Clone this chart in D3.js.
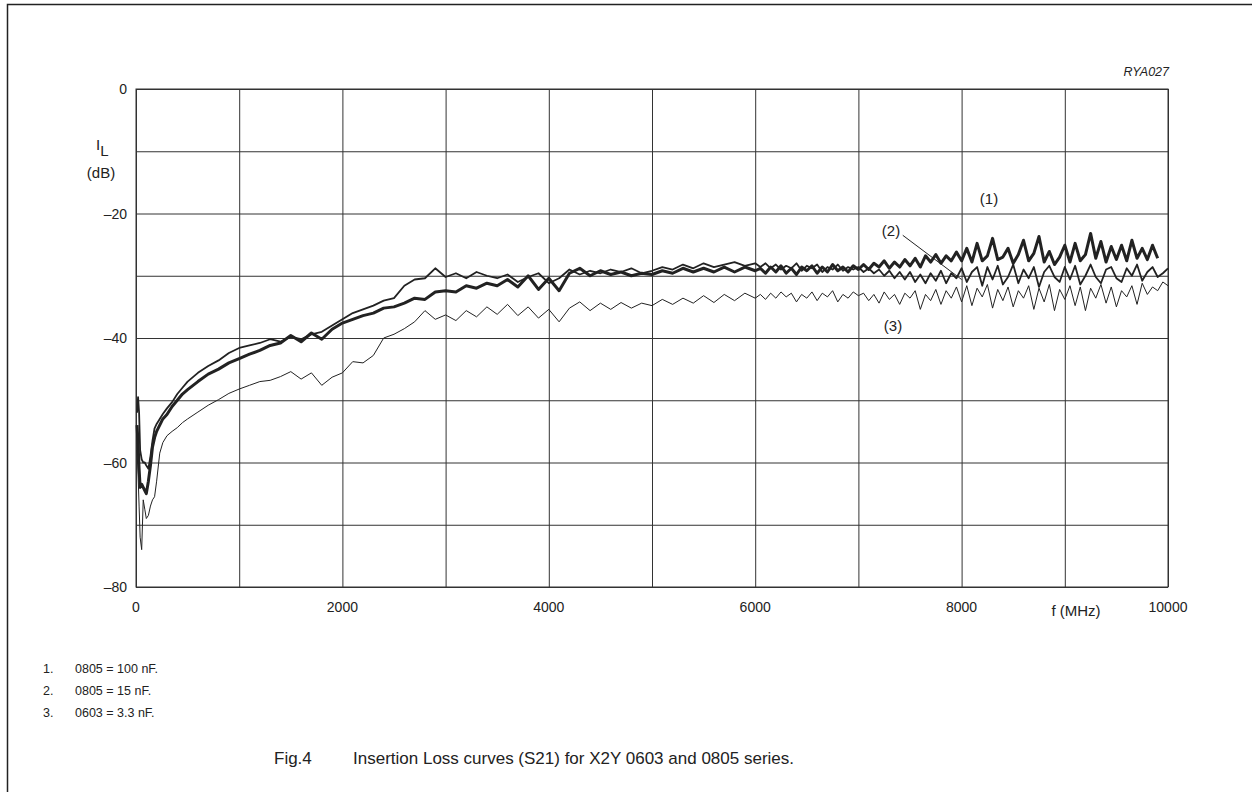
<!DOCTYPE html>
<html lang="en">
<head>
    <meta charset="UTF-8">
    <title>Insertion Loss curves</title>
    <script src="https://d3js.org/d3.v7.min.js"></script>
    <style>
        body, html { margin: 0; padding: 0; background: #fff; }
        svg text { font-family: "Liberation Sans", Arial, sans-serif; fill: #222; }
        .grid line, .grid path { stroke: #333; stroke-width: 1; }
        .curve { fill: none; stroke: #222; stroke-linejoin: round; }
    </style>
</head>
<body>
<div id="chart"></div>
<script>
    // frequencies (MHz): dense near the notch, then 100 MHz, then 50 MHz steps
    var freqLow = [10, 20, 30, 40, 55, 70, 85, 100, 120, 140, 160, 180, 200, 230, 260, 300, 350, 400, 450, 500, 600, 700, 800, 900, 1000];
    var freqMid = d3.range(1100, 6001, 100);
    var freqHigh = d3.range(6050, 10001, 50);
    var freqs = freqLow.concat(freqMid, freqHigh);

    // (1) 0805 = 100 nF  (thick)
    var s1Low = [-54, -57, -61, -64, -63.5, -64, -64.5, -65, -63, -60.5, -57.5, -56, -55, -54, -53, -52.3, -51, -50, -49, -48.3, -47, -45.8, -45, -44, -43.3];
    var s1Mid = [-42.6, -42.0, -41.2, -40.8, -39.6, -40.6, -39.2, -40.2, -38.6, -37.6,
        -37.0, -36.4, -36.0, -35.2, -35.0, -34.4, -33.6, -33.8, -32.6, -32.4,
        -32.6, -31.6, -32.0, -31.2, -31.6, -30.6, -31.8, -30.0, -32.2, -30.4,
        -32.4, -29.6, -28.8, -30.0, -29.2, -29.8, -29.4, -30.0, -29.6, -29.8,
        -29.2, -29.6, -28.8, -29.4, -28.8, -29.4, -28.6, -29.4, -28.6, -29.2];
    var s1High = [-28.8, -29.6, -28.6, -29.4, -28.4, -29.6, -28.8, -29.8, -28.6, -29.2,
        -28.4, -29.6, -28.6, -29.4, -28.2, -29.2, -28.6, -29.4, -28.4, -29.0,
        -28.2, -29.0, -28.0, -28.6, -27.6, -28.8, -27.8, -28.6, -27.4, -28.4,
        -27.2, -28.6, -26.8, -27.8, -26.6, -28.0, -26.8, -27.6, -26.2, -27.6,
        -25.6, -27.8, -24.8, -27.6, -26.8, -24.0, -27.4, -27.0, -25.6, -28.0,
        -26.6, -24.3, -27.6, -26.4, -23.7, -27.8, -26.1, -28.2, -27.0, -25.1,
        -27.8, -24.8, -27.6, -26.6, -23.2, -27.2, -24.5, -27.8, -25.3, -27.4,
        -25.1, -27.6, -24.3, -27.2, -25.6, -27.4, -25.1, -27.2, null, null];

    // (2) 0805 = 15 nF  (medium)
    var s2Low = [-52, -49.5, -52, -58, -59.5, -60, -60, -60.5, -61, -59, -56.5, -54.5, -53.8, -53, -52.2, -51.3, -50.3, -49, -48, -47, -45.6, -44.5, -43.6, -42.4, -41.6];
    var s2Mid = [-41.2, -40.8, -40.2, -40.6, -39.8, -40.2, -39.4, -39.0, -38.0, -37.0,
        -36.0, -35.4, -34.8, -34.0, -33.6, -31.6, -30.6, -30.4, -28.8, -30.2,
        -29.6, -30.4, -29.4, -30.0, -30.4, -29.8, -31.0, -30.2, -29.6, -31.2,
        -30.4, -29.0, -29.8, -29.2, -29.6, -29.0, -29.4, -28.8, -29.6, -29.2,
        -28.6, -29.0, -28.2, -28.8, -28.0, -28.6, -28.2, -27.8, -28.4, -28.0];
    var s2High = [-28.6, -28.0, -28.8, -28.2, -29.0, -28.4, -28.8, -28.0, -29.2, -28.4,
        -28.8, -28.2, -29.4, -28.6, -29.0, -28.2, -29.2, -28.6, -29.0, -28.6,
        -29.4, -28.8, -29.6, -29.0, -30.0, -29.2, -30.4, -29.4, -30.6, -29.4,
        -31.0, -29.8, -31.2, -29.6, -30.8, -29.2, -31.2, -29.6, -30.4, -28.8,
        -31.0, -29.4, -28.6, -31.6, -28.6, -30.6, -28.4, -31.4, -30.2, -28.2,
        -31.2, -29.0, -30.4, -28.6, -31.8, -29.4, -28.4, -30.2, -31.0, -28.6,
        -30.6, -28.4, -31.4, -30.0, -28.2, -30.2, -31.2, -29.0, -28.6, -30.4,
        -31.0, -28.8, -30.0, -28.2, -30.8, -29.4, -28.6, -30.2, -29.6, -28.8];

    // (3) 0603 = 3.3 nF  (thin)
    var s3Low = [-58, -62, -67, -72, -74, -66, -67.5, -69, -68.5, -67, -66, -65.5, -63, -58.5, -56.8, -55.7, -55, -54.4, -53.6, -53, -51.9, -50.8, -49.9, -48.9, -48.2];
    var s3Mid = [-47.6, -47.0, -46.8, -46.2, -45.4, -46.6, -45.6, -47.6, -46.3, -45.6,
        -43.8, -44.0, -42.8, -40.0, -39.4, -38.5, -37.4, -35.6, -37.0, -36.3,
        -37.2, -35.6, -36.6, -35.0, -36.2, -34.6, -36.4, -35.0, -36.8, -35.4,
        -37.4, -35.2, -34.2, -35.6, -34.4, -35.4, -34.3, -35.2, -34.4, -34.8,
        -33.8, -34.6, -33.6, -34.4, -33.2, -34.3, -33.0, -34.0, -32.8, -33.6];
    var s3High = [-33.0, -33.8, -32.8, -33.6, -32.6, -33.4, -32.8, -34.2, -33.0, -33.6,
        -32.6, -34.0, -32.8, -33.4, -32.4, -34.2, -33.0, -33.6, -32.6, -33.2,
        -32.8, -34.0, -33.0, -34.4, -32.6, -33.8, -33.0, -34.6, -32.8, -33.6,
        -32.4, -35.4, -33.0, -34.0, -32.2, -34.6, -32.4, -33.6, -31.8, -34.2,
        -31.6, -34.8, -32.0, -33.4, -31.4, -35.2, -32.2, -34.0, -31.8, -35.0,
        -32.4, -33.6, -31.6, -35.4, -32.0, -34.2, -31.4, -35.6, -32.2, -33.8,
        -31.6, -34.8, -31.8, -35.6, -32.0, -33.6, -31.4, -34.4, -31.8, -35.0,
        -32.4, -33.4, -31.6, -34.6, -31.2, -33.0, -31.8, -32.4, -31.0, -31.6];

    var series = [
        { name: "(1)", values: s1Low.concat(s1Mid, s1High), width: 3 },
        { name: "(2)", values: s2Low.concat(s2Mid, s2High), width: 1.8 },
        { name: "(3)", values: s3Low.concat(s3Mid, s3High), width: 1 }
    ];

    var xTickLabels = [0, 2000, 4000, 6000, 8000, 10000];
    var yTickLabels = [0, -20, -40, -60, -80];
    var notes = ["0805 = 100 nF.", "0805 = 15 nF.", "0603 = 3.3 nF."];

    var width = 1252, height = 792;
    var svg = d3.select("#chart").append("svg")
        .attr("width", width)
        .attr("height", height);

    // page frame
    svg.append("path")
        .attr("d", "M7.5," + height + "V4.5H" + width)
        .attr("fill", "none")
        .attr("stroke", "#222")
        .attr("stroke-width", 1.5);

    var x = d3.scaleLinear().domain([0, 10000]).range([136, 1168]);
    var y = d3.scaleLinear().domain([0, -80]).range([89, 587]);

    // grid
    svg.append("g")
        .attr("class", "grid")
        .attr("transform", "translate(0,587)")
        .call(d3.axisBottom(x).tickValues(d3.range(0, 10001, 1000)).tickSize(-(587 - 89)).tickFormat(""))
        .call(g => g.select(".domain").remove());
    svg.append("g")
        .attr("class", "grid")
        .attr("transform", "translate(136,0)")
        .call(d3.axisLeft(y).tickValues(d3.range(0, -81, -10)).tickSize(-(1168 - 136)).tickFormat(""))
        .call(g => g.select(".domain").remove());
    svg.append("rect")
        .attr("x", 136).attr("y", 89)
        .attr("width", 1168 - 136).attr("height", 587 - 89)
        .attr("fill", "none").attr("stroke", "#333");

    // tick labels
    svg.append("g").selectAll("text")
        .data(xTickLabels)
        .enter().append("text")
        .attr("x", d => x(d))
        .attr("y", 612)
        .attr("text-anchor", "middle")
        .style("font-size", "14px")
        .text(d => d);
    svg.append("g").selectAll("text")
        .data(yTickLabels)
        .enter().append("text")
        .attr("x", 127)
        .attr("y", d => y(d) + 5)
        .attr("text-anchor", "end")
        .style("font-size", "14px")
        .text(d => d === 0 ? "0" : "\u2013" + Math.abs(d));

    // axis titles
    var yl = svg.append("text").attr("x", 96).attr("y", 150).style("font-size", "15px");
    yl.append("tspan").text("I");
    yl.append("tspan").attr("dy", 6).text("L");
    svg.append("text").attr("x", 101).attr("y", 178).attr("text-anchor", "middle")
        .style("font-size", "15px").text("(dB)");
    svg.append("text").attr("x", 1076).attr("y", 616).attr("text-anchor", "middle")
        .style("font-size", "15px").text("f (MHz)");
    svg.append("text").attr("x", 1169).attr("y", 76).attr("text-anchor", "end")
        .style("font-size", "12.5px").style("font-style", "italic").text("RYA027");

    // curves
    var line = d3.line()
        .defined(d => d[1] != null)
        .x(d => x(d[0]))
        .y(d => y(d[1]));

    svg.append("g").selectAll("path")
        .data(series)
        .enter().append("path")
        .attr("class", "curve")
        .attr("stroke-width", d => d.width)
        .attr("d", d => line(freqs.map((f, i) => [f, d.values[i]])));

    // curve labels
    svg.append("text").attr("x", 989).attr("y", 204).attr("text-anchor", "middle")
        .style("font-size", "15px").text("(1)");
    svg.append("text").attr("x", 891).attr("y", 236).attr("text-anchor", "middle")
        .style("font-size", "15px").text("(2)");
    svg.append("text").attr("x", 893).attr("y", 331).attr("text-anchor", "middle")
        .style("font-size", "15px").text("(3)");
    svg.append("line")
        .attr("x1", x(7430)).attr("y1", y(-23.5))
        .attr("x2", x(8000)).attr("y2", y(-30.6))
        .attr("stroke", "#222").attr("stroke-width", 1);

    // notes
    var ng = svg.append("g").selectAll("g")
        .data(notes)
        .enter().append("g")
        .attr("transform", (d, i) => "translate(0," + (673 + i * 22) + ")");
    ng.append("text").attr("x", 43).style("font-size", "12.5px").text((d, i) => (i + 1) + ".");
    ng.append("text").attr("x", 75).style("font-size", "12.5px").text(d => d);

    // caption
    svg.append("text").attr("x", 274).attr("y", 764).style("font-size", "17px").text("Fig.4");
    svg.append("text").attr("x", 353).attr("y", 764).style("font-size", "17px")
        .text("Insertion Loss curves (S21) for X2Y 0603 and 0805 series.");
</script>
</body>
</html>
